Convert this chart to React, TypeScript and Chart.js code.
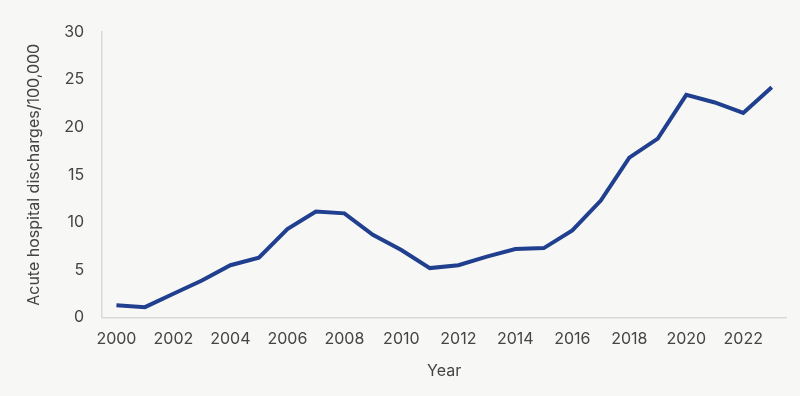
import React, { useEffect, useRef } from "react";
import { Chart, registerables } from "chart.js";

Chart.register(...registerables);

const years = ["2000","2001","2002","2003","2004","2005","2006","2007","2008","2009","2010","2011","2012","2013","2014","2015","2016","2017","2018","2019","2020","2021","2022","2023"];
const discharges = [1.3,1.1,2.5,3.9,5.5,6.3,9.3,11.15,10.95,8.7,7.1,5.2,5.5,6.4,7.2,7.3,9.15,12.3,16.8,18.8,23.4,22.6,21.5,24.2];
const yTitle = "Acute hospital discharges/100,000";
const xTitle = "Year";

const FONT = "Inter, 'Noto Sans', sans-serif";

export default function App() {
  const ref = useRef<HTMLCanvasElement | null>(null);
  useEffect(() => {
    document.body.style.margin = "0";
    const ctx = ref.current!;
    const chart = new Chart(ctx, {
      type: "line",
      data: {
        labels: years,
        datasets: [{
          data: discharges,
          borderColor: "#213f8f",
          borderWidth: 4,
          pointRadius: 0,
          tension: 0,
          fill: false,
        }],
      },
      options: {
        animation: false,
        responsive: false,
        maintainAspectRatio: false,
        layout: { padding: { top: 32, right: 14, left: 21, bottom: 11 } },
        plugins: { legend: { display: false }, tooltip: { enabled: false } },
        scales: {
          x: {
            offset: true,
            grid: { display: false },
            border: { display: true, color: "#d9d9d9", width: 1.5 },
            ticks: {
              autoSkip: false,
              maxRotation: 0,
              padding: 4,
              color: "#444444",
              font: { family: FONT, size: 16 },
              callback: (_v: any, i: number) => (i % 2 === 0 ? years[i] : ""),
            },
            title: { display: true, text: xTitle, color: "#444444", font: { family: FONT, size: 16 }, padding: { top: 9 } },
          },
          y: {
            min: 0,
            max: 30,
            grid: { display: false },
            border: { display: true, color: "#d9d9d9", width: 1.5 },
            ticks: {
              stepSize: 5,
              padding: 10,
              color: "#444444",
              font: { family: FONT, size: 16 },
            },
            title: { display: true, text: yTitle, color: "#444444", font: { family: FONT, size: 16 }, padding: { bottom: 10 } },
          },
        },
      },
    });
    return () => chart.destroy();
  }, []);
  return (
    <div style={{ width: 800, height: 396, background: "#f7f7f5" }}>
      <canvas ref={ref} width={800} height={396} />
    </div>
  );
}
